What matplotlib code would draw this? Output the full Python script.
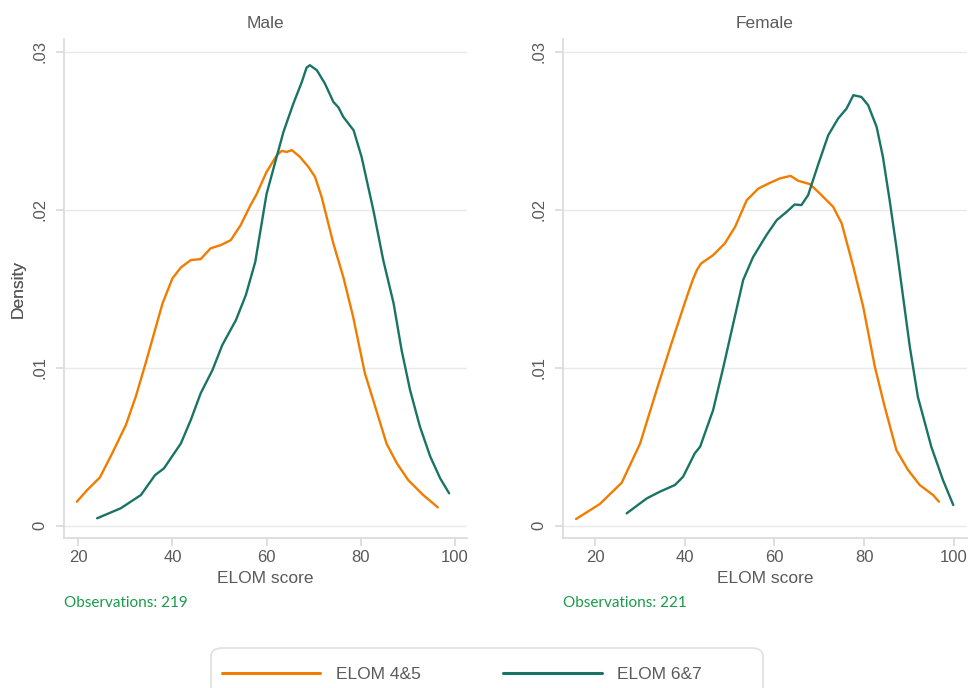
import matplotlib.pyplot as plt
from matplotlib.patches import FancyBboxPatch

# density curves (ELOM score, density)
male_45_x = [19.7, 21.9, 24.6, 27.2, 30.1, 32.2, 34.3, 36.1, 37.9, 40.0, 41.8, 43.9,
             46.0, 48.1, 50.3, 52.4, 54.5, 56.6, 57.9, 60.0, 62.2, 63.2, 64.3, 65.4,
             67.1, 68.9, 70.3, 71.7, 74.2, 76.3, 78.4, 80.9, 83.1, 85.5, 87.7, 90.1,
             93.3, 96.4]
male_45_y = [.00152, .00226, .00306, .00458, .00637, .00816, .01028, .01218, .01408,
             .01566, .01635, .01682, .01688, .01756, .01777, .01808, .01903, .0203,
             .0210, .0224, .02346, .02373, .02367, .02378, .02335, .02272, .02209,
             .02082, .01787, .01576, .01323, .00965, .00753, .0052, .00395, .00289,
             .00194, .00116]

male_67_x = [24.0, 29.0, 33.3, 36.3, 38.2, 41.8, 43.9, 46.0, 48.5, 50.6, 53.5, 55.6,
             57.6, 60.0, 63.6, 65.7, 67.5, 68.5, 69.2, 70.7, 72.4, 74.2, 75.3, 76.3,
             78.5, 80.2, 82.7, 84.8, 87.0, 88.7, 90.5, 92.6, 94.8, 96.9, 98.8]
male_67_y = [.00047, .0011, .00194, .0032, .00363, .00521, .00669, .00838, .00985,
             .01144, .01302, .0146, .0167, .0210, .02494, .02673, .0281, .0290, .02916,
             .02884, .0280, .02684, .02648, .02589, .02504, .02335, .01998, .01682,
             .01408, .01112, .00859, .00627, .00437, .003, .00205]

female_45_x = [15.7, 21.0, 25.9, 30.0, 33.7, 37.0, 39.5, 40.8, 41.8, 42.7, 43.6, 46.3,
               48.9, 51.2, 53.8, 56.4, 59.0, 61.2, 63.6, 65.3, 67.9, 70.1, 73.1, 75.0,
               77.6, 79.8, 82.4, 84.6, 87.2, 89.8, 92.4, 95.4, 96.7]
female_45_y = [.00042, .00137, .00272, .0052, .0086, .01154, .0137, .0148, .0156, .0162,
               .0166, .01713, .01787, .01892, .02061, .02135, .02171, .02199, .02215,
               .02184, .02163, .02104, .02019, .01914, .01639, .01386, .01006, .00753,
               .00479, .00353, .00258, .00194, .00152]

female_67_x = [27.0, 31.5, 34.4, 37.8, 39.6, 42.2, 43.4, 46.3, 48.6, 50.8, 53.0, 55.2,
               58.2, 60.5, 62.7, 64.5, 66.0, 67.5, 69.7, 72.0, 74.2, 76.1, 77.6, 79.4,
               80.9, 82.8, 84.2, 85.7, 87.2, 88.7, 90.2, 92.0, 95.0, 97.6, 99.9]
female_67_y = [.00078, .00173, .00215, .00258, .0031, .00458, .005, .00732, .01006,
               .01281, .01555, .0170, .0184, .01935, .01987, .02034, .0203, .02093,
               .02283, .02473, .02578, .02642, .02726, .02715, .02663, .02525, .02335,
               .02061, .01766, .01449, .01133, .00816, .005, .00289, .00131]

panels = ["Male", "Female"]
observations = [219, 221]
series_labels = ["ELOM 4&5", "ELOM 6&7"]
y_ticks = [0, .01, .02, .03]
y_tick_labels = ["0", ".01", ".02", ".03"]
x_ticks = [20, 40, 60, 80, 100]

ORANGE = "#F07D00"
TEAL = "#1A7466"
GREEN = "#1A9A4A"
TEXT = "#5a5a5a"
AXIS = "#dcdcdc"
GRID = "#e9e9e9"

W, H = 973, 688
fig = plt.figure(figsize=(W / 100, H / 100), dpi=100)
fig.patch.set_facecolor("white")

# axes boxes in pixels: left, right, top, bottom
boxes = [(64, 467, 39.3, 538), (563.3, 966.7, 39.3, 538)]
xlims = [(16.96, 102.6), (12.86, 102.9)]
data = [
    ((male_45_x, male_45_y), (male_67_x, male_67_y)),
    ((female_45_x, female_45_y), (female_67_x, female_67_y)),
]

font = "Liberation Sans"

for i, name in enumerate(panels):
    l, r, t, b = boxes[i]
    ax = fig.add_axes([l / W, 1 - b / H, (r - l) / W, (b - t) / H])
    ax.set_facecolor("white")
    (x1, y1), (x2, y2) = data[i]
    ax.plot(x1, y1, color=ORANGE, lw=1.7, label=series_labels[0],
            solid_joinstyle="round", solid_capstyle="round")
    ax.plot(x2, y2, color=TEAL, lw=1.7, label=series_labels[1],
            solid_joinstyle="round", solid_capstyle="round")

    ax.set_xlim(*xlims[i])
    ax.set_ylim(-0.00078, 0.0308)
    ax.set_xticks(x_ticks)
    ax.set_yticks(y_ticks)
    ax.set_yticklabels(y_tick_labels, rotation=90, va="center")
    for s in ["top", "right"]:
        ax.spines[s].set_visible(False)
    for s in ["left", "bottom"]:
        ax.spines[s].set_color(AXIS)
        ax.spines[s].set_linewidth(1.3)
    ax.grid(axis="y", color=GRID, lw=1.0)
    ax.set_axisbelow(True)
    ax.tick_params(axis="both", color=AXIS, width=1.3, length=6, labelcolor=TEXT,
                   labelsize=12)
    ax.tick_params(axis="x", pad=3)
    ax.tick_params(axis="y", pad=6)
    for lab in ax.get_xticklabels() + ax.get_yticklabels():
        lab.set_fontfamily(font)

    ax.set_title(name, color=TEXT, fontsize=12.5, family=font, pad=8)
    ax.set_ylabel("Density", color=TEXT, fontsize=12.5, family=font)
    ax.yaxis.set_label_coords((26 - l) / (r - l), 0.5)
    ax.set_xlabel("ELOM score", color=TEXT, fontsize=12.5, family=font)
    ax.xaxis.set_label_coords(0.5, -(571 - b) / (b - t))
    ax.xaxis.label.set_va("top")
    ax.text(0, -(603 - b) / (b - t), f"Observations: {observations[i]}",
            transform=ax.transAxes, ha="left", va="center", color=GREEN,
            fontsize=11, family="Lato")

# legend frame (runs off the bottom edge like the original)
frame = FancyBboxPatch((211 / W, -0.05), (763 - 211) / W, 1 - 648 / H + 0.05,
                       boxstyle="round,pad=0,rounding_size=0.012",
                       transform=fig.transFigure, facecolor="white",
                       edgecolor="#e2e2e2", lw=1.3)
fig.patches.append(frame)

handles, labels = ax.get_legend_handles_labels()
leg = fig.legend(handles, labels, loc="center left",
                 bbox_to_anchor=(221.5 / W, 1 - 674 / H), ncol=2, frameon=False,
                 borderpad=0, borderaxespad=0, handlelength=5.7, handletextpad=0.9,
                 columnspacing=4.7, prop={"family": font, "size": 12.5})
for txt in leg.get_texts():
    txt.set_color(TEXT)
for ln in leg.get_lines():
    ln.set_linewidth(2.2)

fig.savefig("out.png", dpi=100, facecolor="white")
